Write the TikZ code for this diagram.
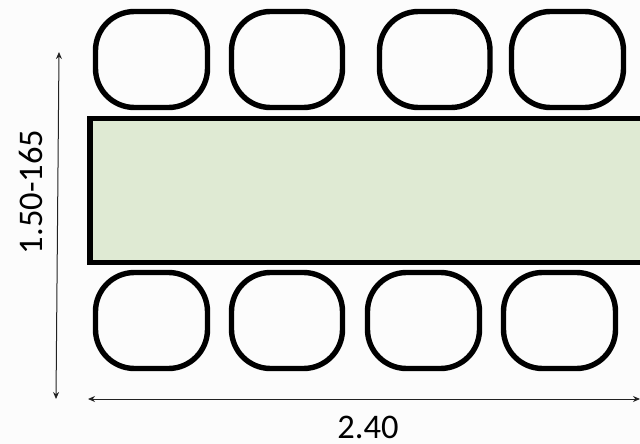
\documentclass[tikz,border=0pt]{standalone}
\usepackage{fontspec}
\setmainfont{Carlito}
\usetikzlibrary{arrows.meta}
\definecolor{paper}{HTML}{FCFCFC}
\definecolor{tablegreen}{HTML}{DFEAD3}
\definecolor{dimgrey}{HTML}{222222}
\tikzset{
  seat/.style={draw=black,line width=5.4pt,rounded corners=39pt,fill=none},
  tabletop/.style={draw=black,line width=5.4pt,fill=tablegreen},
  dimline/.style={draw=dimgrey,line width=1pt,{Stealth[length=7pt,width=6pt]}-{Stealth[length=7pt,width=6pt]}},
  dimlabel/.style={font=\fontsize{34.5}{36}\selectfont,text=black,inner sep=0pt,text height=22pt,text depth=0pt}
}
\begin{document}
\begin{tikzpicture}[x=1pt,y=-1pt]
\useasboundingbox (0,0) rectangle (640,444);
\fill[paper] (0,0) rectangle (640,444);
\begin{scope}
\path[clip] (0,0) rectangle (640,444);
\draw[tabletop] (90,118.5) rectangle (660,262.5);
\end{scope}
\foreach \xa/\xb in {95.5/207.5,231.5/342.5,379.5/490,511.5/623.5}
  \draw[seat] (\xa,11.5) rectangle (\xb,107.5);
\foreach \xa/\xb in {95.5/207.5,231.5/342.5,367.5/479.5,503.5/615.5}
  \draw[seat] (\xa,272.5) rectangle (\xb,368.5);
\coordinate (vtop) at (59,52);
\coordinate (vbot) at (56,399);
\coordinate (hleft) at (88,399);
\coordinate (hright) at (640,399);
\draw[dimline] (vtop) -- (vbot);
\draw[dimline] (hleft) -- (hright);
\node[dimlabel,rotate=90] (vlabel) at (31,192) {1.50-165};
\node[dimlabel] (hlabel) at (368,427) {2.40};
\end{tikzpicture}
\end{document}
